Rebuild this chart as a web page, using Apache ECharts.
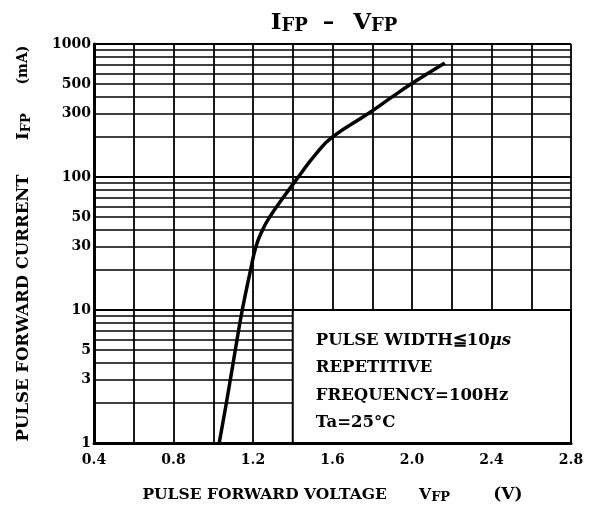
<!DOCTYPE html>
<html>
<head>
<meta charset="utf-8">
<script src="https://cdn.jsdelivr.net/npm/echarts@6/dist/echarts.min.js"></script>
<style>
html,body{margin:0;padding:0;background:#fff;}
#chart{width:596px;height:509px;}
</style>
</head>
<body>
<div id="chart"></div>
<script>
// IFP - VFP curve
var voltage = [1.030, 1.066, 1.111, 1.146, 1.188, 1.215, 1.248, 1.284, 1.352, 1.428, 1.518, 1.600, 1.780, 1.900, 1.995, 2.165];
var current = [1, 2, 5, 10, 20, 30, 40, 50, 70, 100, 150, 200, 300, 400, 500, 720];
// minor grid values on the log axis, and which of them get a label
var minorValues = [2, 3, 4, 5, 6, 7, 8, 9, 20, 30, 40, 50, 60, 70, 80, 90, 200, 300, 400, 500, 600, 700, 800, 900];
var minorLabels = [3, 5, 30, 50, 300, 500];
var noteLines = ['PULSE WIDTH≦10{i|μs}', 'REPETITIVE', 'FREQUENCY=100Hz', 'Ta=25°C'];

var FONT = 'DejaVu Serif';

var chart = echarts.init(document.getElementById('chart'));

var points = voltage.map(function (v, i) { return [v, current[i]]; });

var minorData = minorValues.map(function (v) {
  return [
    {
      coord: [0.4, v],
      value: v,
      label: { show: minorLabels.indexOf(v) >= 0 }
    },
    { coord: [v < 10 ? 1.4 : 2.8, v] }
  ];
});

function sub(size) {
  return { fontFamily: FONT, fontWeight: 'bold', fontSize: size, color: '#000', padding: [6, 0, 0, 0] };
}

var option = {
  animation: false,
  backgroundColor: '#fff',
  title: {
    text: '{b|I}{s|FP}{d|–}{b|V}{s|FP}',
    left: 329,
    top: 6,
    textAlign: 'center',
    textStyle: {
      rich: {
        b: { fontFamily: FONT, fontWeight: 'bold', fontSize: 23, color: '#000' },
        s: sub(18),
        d: { fontFamily: FONT, fontWeight: 'bold', fontSize: 23, color: '#000', padding: [0, 19, 0, 15] }
      }
    }
  },
  grid: {
    left: 94,
    right: 25,
    top: 44,
    bottom: 64
  },
  xAxis: {
    type: 'value',
    min: 0.4,
    max: 2.8,
    interval: 0.2,
    name: 'PULSE FORWARD VOLTAGE      V{s|FP}        {u|(V)}',
    nameLocation: 'middle',
    nameGap: 42,
    nameTextStyle: {
      fontFamily: FONT, fontWeight: 'bold', fontSize: 15.5, color: '#000',
      rich: {
        s: sub(13),
        u: { fontFamily: FONT, fontWeight: 'bold', fontSize: 17, color: '#000' }
      }
    },
    axisLine: { show: true, lineStyle: { color: '#000', width: 3 } },
    axisTick: { show: false },
    axisLabel: {
      margin: 10,
      fontFamily: FONT, fontWeight: 'bold', fontSize: 14, color: '#000',
      formatter: function (v) {
        var t = Math.round(v * 10);
        return t % 4 === 0 ? (t / 10).toFixed(1) : '';
      }
    },
    splitLine: { show: true, lineStyle: { color: '#000', width: 1.8 } }
  },
  yAxis: {
    type: 'log',
    logBase: 10,
    min: 1,
    max: 1000,
    name: 'PULSE FORWARD CURRENT      I{s|FP}     {u|(mA)}',
    nameLocation: 'middle',
    nameGap: 61,
    nameTextStyle: {
      fontFamily: FONT, fontWeight: 'bold', fontSize: 16.5, color: '#000',
      rich: {
        s: sub(13),
        u: { fontFamily: FONT, fontWeight: 'bold', fontSize: 14, color: '#000' }
      }
    },
    axisLine: { show: true, lineStyle: { color: '#000', width: 3 } },
    axisTick: { show: false },
    axisLabel: {
      margin: 3,
      fontFamily: FONT, fontWeight: 'bold', fontSize: 14, color: '#000',
      formatter: function (v) { return String(v); }
    },
    splitLine: { show: true, lineStyle: { color: '#000', width: 1.8 } }
  },
  series: [
    {
      type: 'line',
      data: points,
      smooth: true,
      symbol: 'none',
      lineStyle: { color: '#000', width: 3.5 },
      z: 10,
      markLine: {
        silent: true,
        symbol: ['none', 'none'],
        lineStyle: { color: '#000', width: 1.5, type: 'solid' },
        label: {
          position: 'start',
          distance: 3,
          fontFamily: FONT, fontWeight: 'bold', fontSize: 14, color: '#000',
          formatter: function (p) { return p.value; }
        },
        emphasis: { disabled: true },
        data: minorData
      },
      markArea: {
        silent: true,
        itemStyle: { color: '#fff', opacity: 1, borderColor: '#000', borderWidth: 2 },
        label: {
          show: true,
          position: 'insideLeft',
          distance: 24,
          offset: [0, 5],
          fontFamily: FONT, fontWeight: 'bold', fontSize: 16.5, color: '#000',
          lineHeight: 27.5,
          rich: {
            i: { fontFamily: FONT, fontWeight: 'bold', fontStyle: 'italic', fontSize: 16.5, color: '#000', lineHeight: 27.5 }
          },
          formatter: function () { return noteLines.join('\n'); }
        },
        data: [[{ coord: [1.4, 1] }, { coord: [2.8, 10] }]]
      }
    }
  ]
};

chart.setOption(option);
</script>
</body>
</html>
